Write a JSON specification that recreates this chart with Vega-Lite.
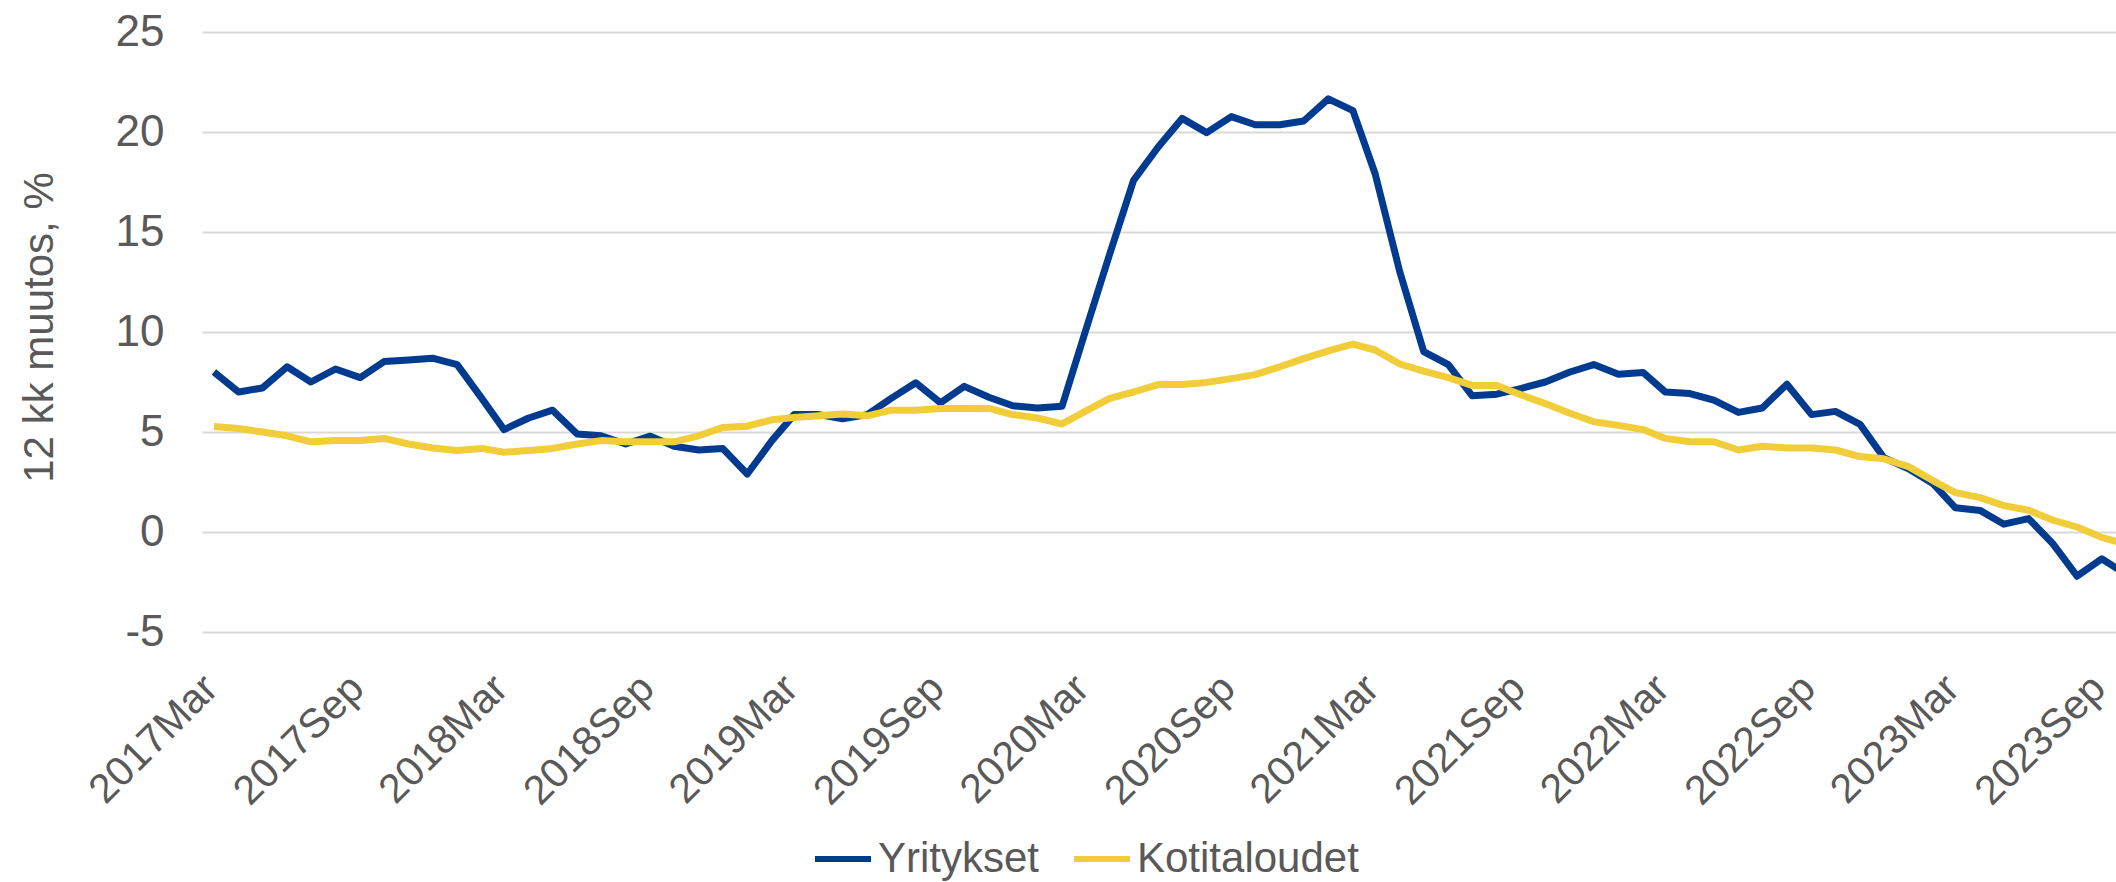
{
  "$schema": "https://vega.github.io/schema/vega-lite/v6.json",
  "autosize": {"type": "none"},
  "padding": {"left": 202, "top": 32, "right": 0, "bottom": 250},
  "width": 1914,
  "height": 600,
  "background": "white",
  "config": {
    "view": {"stroke": null},
    "font": "Liberation Sans"
  },
  "data": {
    "values": [
      {"date": "2017-03-01", "Yritykset": 8.0, "Kotitaloudet": 5.27},
      {"date": "2017-04-01", "Yritykset": 7.0, "Kotitaloudet": 5.18},
      {"date": "2017-05-01", "Yritykset": 7.2, "Kotitaloudet": 5.0},
      {"date": "2017-06-01", "Yritykset": 8.26, "Kotitaloudet": 4.81},
      {"date": "2017-07-01", "Yritykset": 7.5, "Kotitaloudet": 4.51},
      {"date": "2017-08-01", "Yritykset": 8.15, "Kotitaloudet": 4.57},
      {"date": "2017-09-01", "Yritykset": 7.72, "Kotitaloudet": 4.57},
      {"date": "2017-10-01", "Yritykset": 8.52, "Kotitaloudet": 4.68},
      {"date": "2017-11-01", "Yritykset": 8.6, "Kotitaloudet": 4.4},
      {"date": "2017-12-01", "Yritykset": 8.69, "Kotitaloudet": 4.2},
      {"date": "2018-01-01", "Yritykset": 8.37, "Kotitaloudet": 4.08},
      {"date": "2018-02-01", "Yritykset": 6.68, "Kotitaloudet": 4.18},
      {"date": "2018-03-01", "Yritykset": 5.12, "Kotitaloudet": 3.99},
      {"date": "2018-04-01", "Yritykset": 5.7, "Kotitaloudet": 4.08},
      {"date": "2018-05-01", "Yritykset": 6.09, "Kotitaloudet": 4.18},
      {"date": "2018-06-01", "Yritykset": 4.9, "Kotitaloudet": 4.4},
      {"date": "2018-07-01", "Yritykset": 4.81, "Kotitaloudet": 4.57},
      {"date": "2018-08-01", "Yritykset": 4.4, "Kotitaloudet": 4.51},
      {"date": "2018-09-01", "Yritykset": 4.79, "Kotitaloudet": 4.51},
      {"date": "2018-10-01", "Yritykset": 4.29, "Kotitaloudet": 4.51},
      {"date": "2018-11-01", "Yritykset": 4.1, "Kotitaloudet": 4.81},
      {"date": "2018-12-01", "Yritykset": 4.18, "Kotitaloudet": 5.22},
      {"date": "2019-01-01", "Yritykset": 2.9, "Kotitaloudet": 5.29},
      {"date": "2019-02-01", "Yritykset": 4.57, "Kotitaloudet": 5.61},
      {"date": "2019-03-01", "Yritykset": 5.87, "Kotitaloudet": 5.72},
      {"date": "2019-04-01", "Yritykset": 5.87, "Kotitaloudet": 5.81},
      {"date": "2019-05-01", "Yritykset": 5.66, "Kotitaloudet": 5.9},
      {"date": "2019-06-01", "Yritykset": 5.87, "Kotitaloudet": 5.81},
      {"date": "2019-07-01", "Yritykset": 6.68, "Kotitaloudet": 6.09},
      {"date": "2019-08-01", "Yritykset": 7.46, "Kotitaloudet": 6.09},
      {"date": "2019-09-01", "Yritykset": 6.46, "Kotitaloudet": 6.18},
      {"date": "2019-10-01", "Yritykset": 7.28, "Kotitaloudet": 6.18},
      {"date": "2019-11-01", "Yritykset": 6.74, "Kotitaloudet": 6.18},
      {"date": "2019-12-01", "Yritykset": 6.31, "Kotitaloudet": 5.87},
      {"date": "2020-01-01", "Yritykset": 6.2, "Kotitaloudet": 5.7},
      {"date": "2020-02-01", "Yritykset": 6.29, "Kotitaloudet": 5.4},
      {"date": "2020-03-01", "Yritykset": 9.99, "Kotitaloudet": 6.03},
      {"date": "2020-04-01", "Yritykset": 13.9, "Kotitaloudet": 6.68},
      {"date": "2020-05-01", "Yritykset": 17.58, "Kotitaloudet": 7.0},
      {"date": "2020-06-01", "Yritykset": 19.25, "Kotitaloudet": 7.37},
      {"date": "2020-07-01", "Yritykset": 20.68, "Kotitaloudet": 7.37},
      {"date": "2020-08-01", "Yritykset": 19.97, "Kotitaloudet": 7.48},
      {"date": "2020-09-01", "Yritykset": 20.77, "Kotitaloudet": 7.67},
      {"date": "2020-10-01", "Yritykset": 20.36, "Kotitaloudet": 7.87},
      {"date": "2020-11-01", "Yritykset": 20.36, "Kotitaloudet": 8.26},
      {"date": "2020-12-01", "Yritykset": 20.55, "Kotitaloudet": 8.67},
      {"date": "2021-01-01", "Yritykset": 21.66, "Kotitaloudet": 9.06},
      {"date": "2021-02-01", "Yritykset": 21.07, "Kotitaloudet": 9.39},
      {"date": "2021-03-01", "Yritykset": 17.9, "Kotitaloudet": 9.1},
      {"date": "2021-04-01", "Yritykset": 13.0, "Kotitaloudet": 8.4},
      {"date": "2021-05-01", "Yritykset": 9.02, "Kotitaloudet": 8.04},
      {"date": "2021-06-01", "Yritykset": 8.37, "Kotitaloudet": 7.72},
      {"date": "2021-07-01", "Yritykset": 6.81, "Kotitaloudet": 7.33},
      {"date": "2021-08-01", "Yritykset": 6.89, "Kotitaloudet": 7.33},
      {"date": "2021-09-01", "Yritykset": 7.18, "Kotitaloudet": 6.85},
      {"date": "2021-10-01", "Yritykset": 7.5, "Kotitaloudet": 6.42},
      {"date": "2021-11-01", "Yritykset": 8.0, "Kotitaloudet": 5.94},
      {"date": "2021-12-01", "Yritykset": 8.37, "Kotitaloudet": 5.51},
      {"date": "2022-01-01", "Yritykset": 7.89, "Kotitaloudet": 5.33},
      {"date": "2022-02-01", "Yritykset": 7.98, "Kotitaloudet": 5.12},
      {"date": "2022-03-01", "Yritykset": 7.0, "Kotitaloudet": 4.68},
      {"date": "2022-04-01", "Yritykset": 6.92, "Kotitaloudet": 4.51},
      {"date": "2022-05-01", "Yritykset": 6.59, "Kotitaloudet": 4.51},
      {"date": "2022-06-01", "Yritykset": 5.98, "Kotitaloudet": 4.1},
      {"date": "2022-07-01", "Yritykset": 6.2, "Kotitaloudet": 4.29},
      {"date": "2022-08-01", "Yritykset": 7.39, "Kotitaloudet": 4.2},
      {"date": "2022-09-01", "Yritykset": 5.87, "Kotitaloudet": 4.2},
      {"date": "2022-10-01", "Yritykset": 6.03, "Kotitaloudet": 4.1},
      {"date": "2022-11-01", "Yritykset": 5.38, "Kotitaloudet": 3.77},
      {"date": "2022-12-01", "Yritykset": 3.71, "Kotitaloudet": 3.66},
      {"date": "2023-01-01", "Yritykset": 3.16, "Kotitaloudet": 3.27},
      {"date": "2023-02-01", "Yritykset": 2.41, "Kotitaloudet": 2.56},
      {"date": "2023-03-01", "Yritykset": 1.21, "Kotitaloudet": 1.97},
      {"date": "2023-04-01", "Yritykset": 1.08, "Kotitaloudet": 1.72},
      {"date": "2023-05-01", "Yritykset": 0.39, "Kotitaloudet": 1.32},
      {"date": "2023-06-01", "Yritykset": 0.67, "Kotitaloudet": 1.09},
      {"date": "2023-07-01", "Yritykset": -0.56, "Kotitaloudet": 0.6},
      {"date": "2023-08-01", "Yritykset": -2.21, "Kotitaloudet": 0.25},
      {"date": "2023-09-01", "Yritykset": -1.34, "Kotitaloudet": -0.27},
      {"date": "2023-10-01", "Yritykset": -2.1, "Kotitaloudet": -0.6}
    ]
  },
  "transform": [
    {"fold": ["Yritykset", "Kotitaloudet"], "as": ["sarja", "arvo"]}
  ],
  "mark": {"type": "line", "strokeWidth": 7, "strokeJoin": "round", "clip": true},
  "encoding": {
    "x": {
      "field": "date",
      "type": "temporal",
      "scale": {
        "type": "utc",
        "domain": [
          {"year": 2017, "month": 2, "date": 14, "utc": true},
          {"year": 2023, "month": 9, "date": 19, "utc": true}
        ]
      },
      "axis": {
        "title": null,
        "values": [
          {"year": 2017, "month": 3, "date": 1, "utc": true},
          {"year": 2017, "month": 9, "date": 1, "utc": true},
          {"year": 2018, "month": 3, "date": 1, "utc": true},
          {"year": 2018, "month": 9, "date": 1, "utc": true},
          {"year": 2019, "month": 3, "date": 1, "utc": true},
          {"year": 2019, "month": 9, "date": 1, "utc": true},
          {"year": 2020, "month": 3, "date": 1, "utc": true},
          {"year": 2020, "month": 9, "date": 1, "utc": true},
          {"year": 2021, "month": 3, "date": 1, "utc": true},
          {"year": 2021, "month": 9, "date": 1, "utc": true},
          {"year": 2022, "month": 3, "date": 1, "utc": true},
          {"year": 2022, "month": 9, "date": 1, "utc": true},
          {"year": 2023, "month": 3, "date": 1, "utc": true},
          {"year": 2023, "month": 9, "date": 1, "utc": true}
        ],
        "format": "%Y%b",
        "grid": false,
        "domain": false,
        "ticks": false,
        "tickSize": 0,
        "labelAngle": -45,
        "labelAlign": "right",
        "labelBaseline": "middle",
        "labelPadding": 50,
        "labelOffset": -3,
        "labelFontSize": 41,
        "labelLimit": 0,
        "labelColor": "#595959",
        "labelFlush": false,
        "labelOverlap": false,
        "labelBound": false
      }
    },
    "y": {
      "field": "arvo",
      "type": "quantitative",
      "scale": {"domain": [-5, 25], "nice": false, "zero": false},
      "axis": {
        "title": "12 kk muutos, %",
        "values": [-5, 0, 5, 10, 15, 20, 25],
        "labelExpr": "'' + datum.value",
        "grid": true,
        "gridColor": "#D9D9D9",
        "gridWidth": 2,
        "domain": false,
        "ticks": false,
        "tickSize": 0,
        "labelPadding": 38,
        "labelFontSize": 44,
        "labelColor": "#595959",
        "titleFontSize": 42,
        "titleFontWeight": "normal",
        "titleColor": "#595959",
        "titleAngle": -90,
        "titleAlign": "center",
        "titleBaseline": "alphabetic",
        "titleX": -150,
        "titleY": 295
      }
    },
    "color": {
      "field": "sarja",
      "type": "nominal",
      "scale": {"domain": ["Yritykset", "Kotitaloudet"], "range": ["#003B8F", "#F2CD3A"]},
      "legend": {
        "title": null,
        "orient": "none",
        "direction": "horizontal",
        "legendX": 610,
        "legendY": 796,
        "symbolType": "stroke",
        "symbolSize": 3136,
        "symbolStrokeWidth": 6,
        "labelFontSize": 42,
        "labelLimit": 0,
        "labelColor": "#595959",
        "labelOffset": 4,
        "columnPadding": 22
      }
    }
  }
}
